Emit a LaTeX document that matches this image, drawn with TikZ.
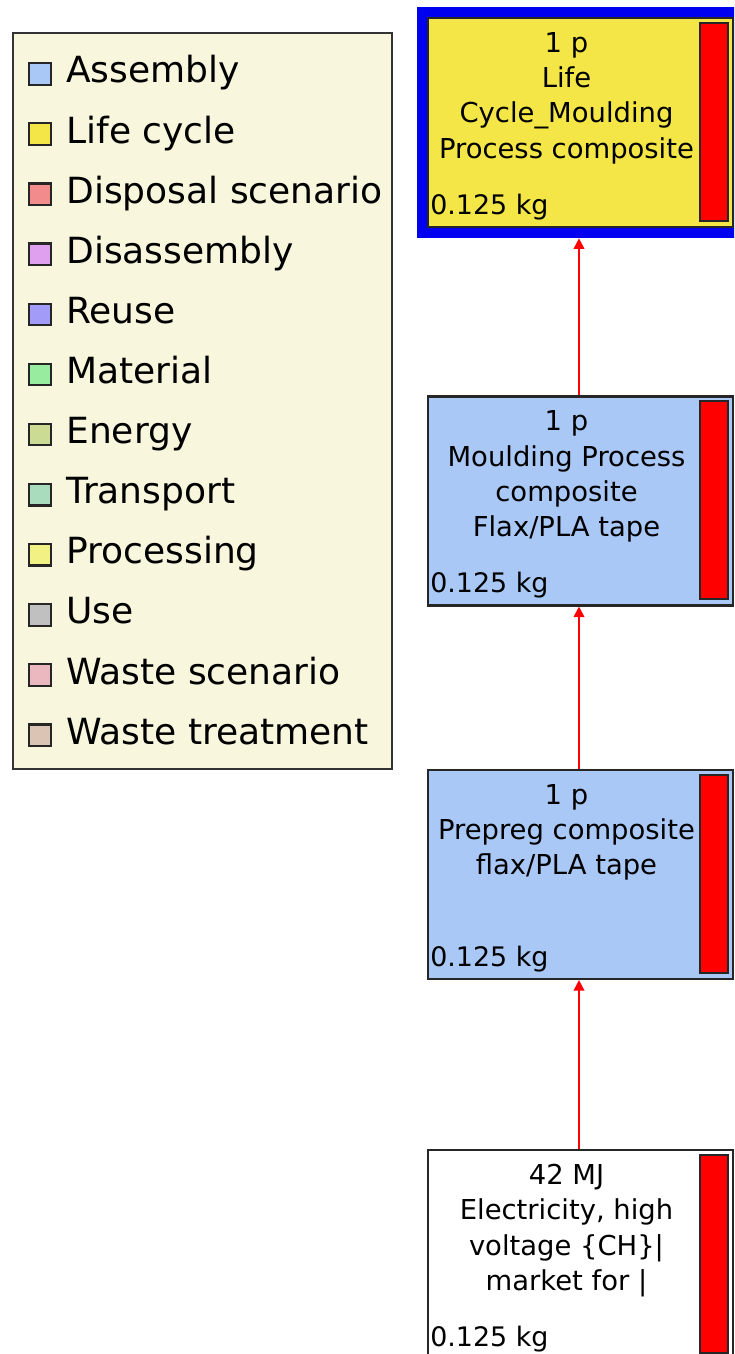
\documentclass[tikz,border=0pt]{standalone}
\usepackage{fontspec}
\setmainfont{DejaVu Sans}
\usetikzlibrary{arrows.meta,positioning}

\definecolor{legendbg}{HTML}{F8F6DC}
\definecolor{assembly}{HTML}{A9C8F6}
\definecolor{lifecycle}{HTML}{F3E646}
\definecolor{disposal}{HTML}{F28C8C}
\definecolor{disassembly}{HTML}{E0A0F0}
\definecolor{reuse}{HTML}{A29CF8}
\definecolor{material}{HTML}{98ECA0}
\definecolor{energy}{HTML}{CCDB94}
\definecolor{transport}{HTML}{A8DCBC}
\definecolor{processing}{HTML}{F2F284}
\definecolor{usecol}{HTML}{C0C0C0}
\definecolor{wastescen}{HTML}{ECB8C0}
\definecolor{wastetreat}{HTML}{DCC4B4}
\definecolor{selblue}{HTML}{0000F0}
\definecolor{barred}{HTML}{FF0000}

\tikzset{
  legsq/.style={draw=black!85,line width=1.3pt,minimum size=0.43cm,inner sep=0pt},
  legtext/.style={inner sep=0pt,font=\fontsize{20.5}{22}\selectfont},
  procbox/.style={draw=black!85,line width=1.2pt,minimum width=6.1cm,minimum height=4.18cm,inner sep=0pt},
  selframe/.style={fill=selblue,minimum width=6.54cm,minimum height=4.62cm,inner sep=0pt},
  scorebar/.style={draw=black!85,line width=1.1pt,fill=barred,minimum width=0.56cm,minimum height=3.96cm,inner sep=0pt},
  boxtext/.style={inner sep=0pt,align=center,font=\fontsize{15.6}{20.1}\selectfont},
  masstext/.style={inner sep=0pt,font=\fontsize{15.3}{20.1}\selectfont},
  flow/.style={draw=barred,line width=1.1pt,-{Triangle[width=6pt,length=6pt]}}
}

\begin{document}
\begin{tikzpicture}[x=0.02cm,y=-0.02cm]
  \useasboundingbox (0,0) rectangle (734,1354);
  \clip (0,0) rectangle (734,1354);

  % legend
  \node[draw=black!80,line width=1pt,fill=legendbg,minimum width=7.58cm,minimum height=14.72cm,inner sep=0pt,anchor=north west] (legend) at (12,32) {};
  \foreach \lab/\col [count=\i from 0] in {Assembly/assembly, Life cycle/lifecycle, Disposal scenario/disposal, Disassembly/disassembly, Reuse/reuse, Material/material, Energy/energy, Transport/transport, Processing/processing, Use/usecol, Waste scenario/wastescen, Waste treatment/wastetreat}{
    \node[legsq,fill=\col] (sq\i) at (40,{74+60.1*\i}) {};
    \node[legtext,anchor=base west] (lt\i) at (66,{83+60.1*\i}) {\lab};
  }

  % process boxes
  \node[selframe] (lcframe) at (580.5,122.5) {};
  \node[procbox,fill=lifecycle] (lcbox) at (580.5,122.5) {};
  \node[procbox,fill=assembly] (mpbox) at (580.5,501) {};
  \node[procbox,fill=assembly] (ppbox) at (580.5,874.5) {};
  \node[procbox,fill=white] (elbox) at (580.5,1254.5) {};

  \foreach \b in {lcbox,mpbox,ppbox,elbox}{
    \node[scorebar,anchor=north east] (\b-bar) at ([shift={(-5.5,5)}]\b.north east) {};
    \node[masstext,anchor=base west] (\b-mass) at ([shift={(3,-14)}]\b.south west) {0.125 kg};
  }

  \node[boxtext,below=0.3cm of lcbox.north,xshift=-0.28cm] (lctext) {1 p\\Life\\Cycle\_Moulding\\Process composite};
  \node[boxtext,below=0.3cm of mpbox.north,xshift=-0.28cm] (mptext) {1 p\\Moulding Process\\composite\\Flax/PLA tape};
  \node[boxtext,below=0.3cm of ppbox.north,xshift=-0.28cm] (pptext) {1 p\\Prepreg composite\\flax/PLA tape};
  \node[boxtext,below=0.3cm of elbox.north,xshift=-0.28cm] (eltext) {42 MJ\\Electricity, high\\voltage \{CH\}|\\market for |};

  \draw[flow] ([xshift=-0.03cm]mpbox.north) -- ([xshift=-0.03cm]lcframe.south);
  \draw[flow] ([xshift=-0.03cm]ppbox.north) -- ([xshift=-0.03cm]mpbox.south);
  \draw[flow] ([xshift=-0.03cm]elbox.north) -- ([xshift=-0.03cm]ppbox.south);
\end{tikzpicture}
\end{document}
